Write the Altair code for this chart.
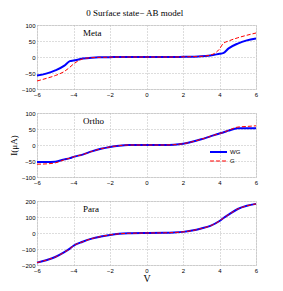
import altair as alt
import pandas as pd

V = [-6, -5.5, -5, -4.5, -4.2, -4, -3.5, -3, -2.5, -2, -1.5, -1, 0, 1, 1.5, 2, 2.5, 3, 3.5, 4, 4.2, 4.5, 5, 5.5, 6]

meta_wg = [-58, -52, -42, -27, -13, -11, -5, -2, -1, -0.5, 0, 0, 0, 0, 0, 0.5, 1, 2, 5, 10, 12, 27, 42, 52, 58]
meta_g = [-75, -67, -58, -45, -32, -22, -6, -2, -1, -0.5, 0, 0, 0, 0, 0, 0.5, 1, 2, 6, 25, 42, 50, 60, 68, 75]

ortho_wg = [-53, -53, -52, -45, -41, -37, -30, -20, -12, -6, -2, 0, 0, 0, 1, 4, 10, 18, 27, 36, 39, 45, 52, 52, 52]
ortho_g = [-60, -59, -56, -46, -41, -37, -30, -20, -12, -6, -2, 0, 0, 0, 1, 4, 10, 18, 27, 36, 39, 46, 56, 58, 60]

para_wg = [-185, -170, -150, -120, -98, -80, -55, -35, -22, -12, -5, -2, 0, 1, 3, 7, 15, 28, 45, 75, 92, 115, 150, 170, 182]
para_g = [-185, -170, -150, -120, -98, -80, -55, -35, -22, -12, -5, -2, 0, 1, 3, 7, 15, 28, 45, 75, 92, 115, 150, 170, 182]

panels = [
    ("Meta", meta_wg, meta_g, [-100, 100], [-100, -50, 0, 50, 100]),
    ("Ortho", ortho_wg, ortho_g, [-100, 100], [-100, -50, 0, 50, 100]),
    ("Para", para_wg, para_g, [-200, 200], [-200, -100, 0, 100, 200]),
]

W = 219
H = 64
serif = "Liberation Serif"
sans = "Liberation Sans"

charts = []
for i, (name, wg, g, dom, yt) in enumerate(panels):
    df = pd.DataFrame({"V": V, "WG": wg, "G": g})
    xaxis = alt.Axis(
        values=[-6, -4, -2, 0, 2, 4, 6], grid=True, gridDash=[1, 2], gridColor="#bbbbbb",
        labelFont=sans, labelFontSize=6, labelColor="#000", tickSize=0, labelPadding=2,
        domain=False, title="V" if i == 2 else None, titleFont=serif, titleFontSize=10,
        titleFontWeight="normal", titlePadding=0, labelFlush=False, labelOverlap=False,
    )
    yaxis = alt.Axis(
        values=yt, grid=True, gridDash=[1, 2], gridColor="#bbbbbb",
        labelFont=sans, labelFontSize=6, labelColor="#000", tickSize=0, labelPadding=2,
        domain=False, title="I(μA)" if i == 1 else "", titleFont=serif, titleFontSize=9,
        titleFontWeight="normal", titlePadding=3, labelFlush=False, labelOverlap=False,
    )
    x = alt.X("V:Q", scale=alt.Scale(domain=[-6, 6], nice=False), axis=xaxis)
    yscale = alt.Scale(domain=dom, nice=False)
    base = alt.Chart(df)
    wgl = base.mark_line(color="#0000ff", strokeWidth=2, interpolate="monotone").encode(
        x=x, y=alt.Y("WG:Q", scale=yscale, axis=yaxis)
    )
    gl = base.mark_line(color="#ff0000", strokeWidth=1, strokeDash=[4, 2], interpolate="monotone").encode(
        x=x, y=alt.Y("G:Q", scale=yscale, axis=yaxis)
    )
    lbl = alt.Chart(pd.DataFrame({"t": [name]})).mark_text(
        font=serif, fontSize=9, align="left", baseline="middle"
    ).encode(x=alt.value(46), y=alt.value(8), text="t:N")
    layers = [wgl, gl, lbl]
    if i == 1:
        leg = pd.DataFrame({"lab": ["WG", "G"], "yy": [39, 48]})
        lb = alt.Chart(leg.iloc[[0]]).mark_rule(color="#0000ff", strokeWidth=2).encode(
            x=alt.value(173), x2=alt.value(190), y=alt.value(39))
        lr = alt.Chart(leg.iloc[[1]]).mark_rule(color="#ff0000", strokeWidth=1, strokeDash=[4, 2]).encode(
            x=alt.value(173), x2=alt.value(190), y=alt.value(48))
        lt = alt.Chart(leg).mark_text(font=sans, fontSize=6, align="left", baseline="middle").encode(
            x=alt.value(193), y=alt.Y("yy:Q", scale=None), text="lab:N")
        layers += [lb, lr, lt]
    charts.append(alt.layer(*layers).properties(width=W, height=H))

chart = alt.vconcat(*charts, spacing=11).properties(
    padding={"left": 0, "top": 0, "right": 0, "bottom": 0},
    title=alt.TitleParams("0 Surface state− AB model", font=serif, fontSize=9,
                          fontWeight="normal", anchor="middle", offset=4)
).configure_view(stroke="#444444", strokeWidth=0.8).configure(background="white")

chart.save("out.html", embed_options={"renderer": "svg", "actions": False})
